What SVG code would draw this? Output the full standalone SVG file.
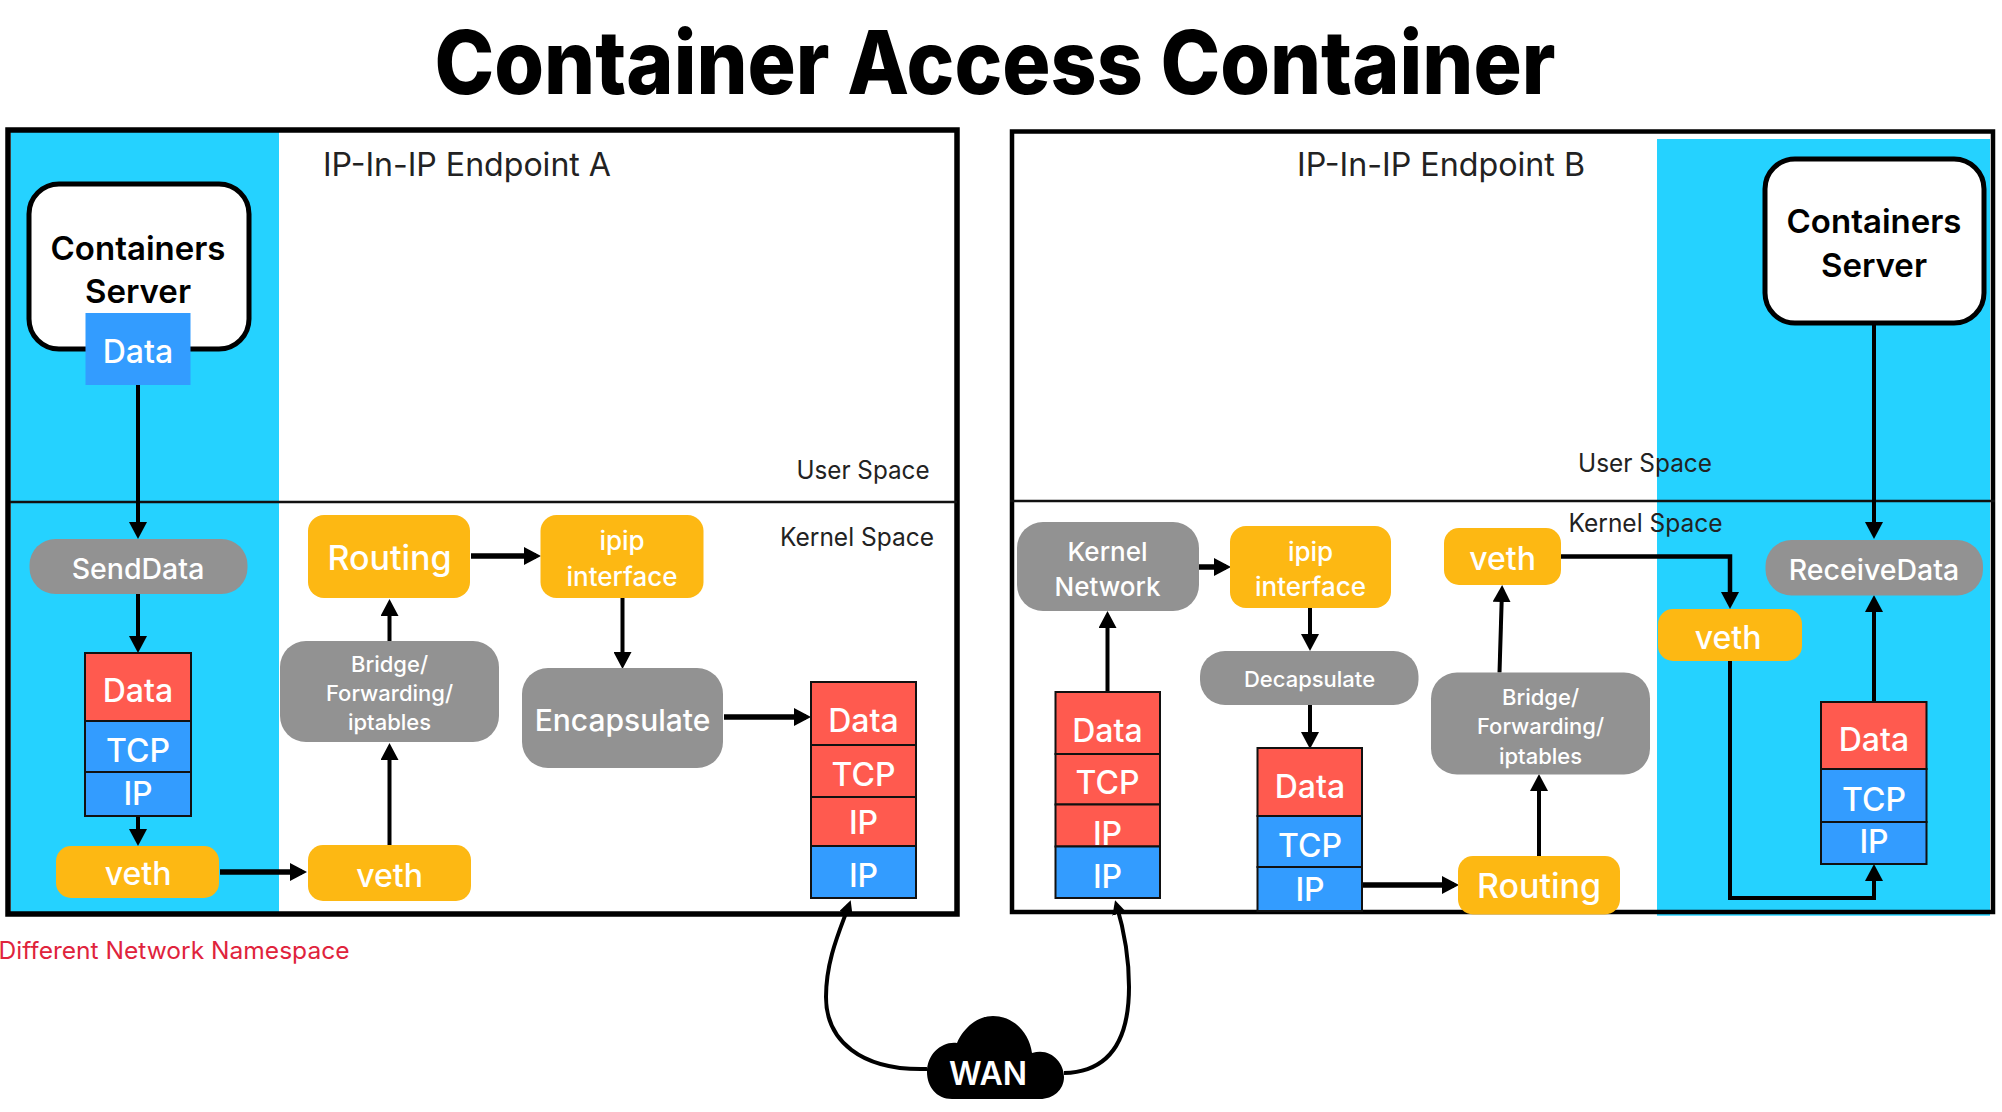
<svg xmlns="http://www.w3.org/2000/svg" width="2002" height="1112" viewBox="0 0 2002 1112">
<style>
text{font-family:"Inter","Liberation Sans",sans-serif;text-anchor:middle}
.w{fill:#fff;font-weight:500}
.l{fill:#222;font-weight:400}
.k{fill:#000;font-weight:600;font-size:33px}
.s30{font-size:32px}.s27{font-size:26px}.s28{font-size:28.500px}.s22{font-size:22px}.s24{font-size:25px}
.org{fill:#fdb813}.gry{fill:#929292}.red{fill:#ff5a4f;stroke:#111;stroke-width:2}.blu{fill:#339cff;stroke:#111;stroke-width:2}
.cy{fill:#25d2ff}
.fr{fill:none;stroke:#000}
.sep{stroke:#111;stroke-width:2.500}
.srv{fill:#fff;stroke:#000;stroke-width:5}
.c{fill:none;stroke:#000;stroke-width:4}
.t{stroke-width:5.500}
.a{marker-end:url(#h)}
.b{marker-end:url(#m)}
</style>
<defs>
<marker id="h" markerUnits="userSpaceOnUse" markerWidth="18" markerHeight="18" refX="12" refY="9" orient="auto"><path d="M0 0L17 9L0 18Z" fill="#000"/></marker>
<marker id="m" markerUnits="userSpaceOnUse" markerWidth="14" markerHeight="14" refX="9" refY="7" orient="auto"><path d="M0 0L14 7L0 14Z" fill="#000"/></marker>
</defs>
<rect width="2002" height="1112" fill="#fff"/>
<text x="995" y="94" font-size="88" font-weight="800" fill="#000" textLength="1121" lengthAdjust="spacingAndGlyphs">Container Access Container</text>

<g id="panel-a">
<rect class="cy" x="11" y="132" width="268" height="780"/>
<rect class="fr" x="8" y="130" width="949" height="784" stroke-width="5.500"/>
<line class="sep" x1="10" y1="502" x2="957" y2="502"/>
<text class="l" x="467" y="176" font-size="32" textLength="288" lengthAdjust="spacingAndGlyphs">IP-In-IP Endpoint A</text>
<text class="l s24" x="863" y="479" textLength="133" lengthAdjust="spacingAndGlyphs">User Space</text>
<text class="l s24" x="857" y="546" textLength="154" lengthAdjust="spacingAndGlyphs">Kernel Space</text>
</g>
<g id="panel-b">
<rect class="cy" x="1657" y="139" width="333" height="776.700"/>
<rect class="fr" x="1012" y="131.500" width="981" height="780.500" stroke-width="4.500"/>
<line class="sep" x1="1010" y1="501" x2="1995" y2="501"/>
<text class="l" x="1441" y="176" font-size="32" textLength="288" lengthAdjust="spacingAndGlyphs">IP-In-IP Endpoint B</text>
<text class="l s24" x="1645" y="472" textLength="134" lengthAdjust="spacingAndGlyphs">User Space</text>
<text class="l s24" x="1645.500" y="532" textLength="154" lengthAdjust="spacingAndGlyphs">Kernel Space</text>
</g>
<text x="174" y="959" font-size="24" fill="#e0233c" font-weight="400" textLength="351" lengthAdjust="spacingAndGlyphs">Different Network Namespace</text>

<g id="connectors">
<path class="c a" d="M138 385V534"/>
<path class="c a" d="M138 594V648"/>
<path class="c a" d="M138 816V841"/>
<path class="c t a" d="M220 872H302"/>
<path class="c a" d="M389.500 845V748"/>
<path class="c a" d="M389.500 641V604"/>
<path class="c t a" d="M471 556H536"/>
<path class="c a" d="M622.500 598V664"/>
<path class="c t a" d="M724 717H806"/>
<path class="c b" d="M927 1069C860 1071 826 1040 826 997C826 960 840 930 849 905"/>
<path class="c b" d="M1064 1073C1110 1072 1129 1040 1129 987C1129 950 1121 920 1116.500 905"/>
<path class="c a" d="M1107.500 692V616"/>
<path class="c t a" d="M1199 567H1226"/>
<path class="c a" d="M1310 608V646"/>
<path class="c a" d="M1310 705V744"/>
<path class="c t a" d="M1362 885H1454"/>
<path class="c a" d="M1539 856V779"/>
<path class="c a" d="M1499.500 672.500L1502 590"/>
<path class="c t a" d="M1561 556.600H1730V604" style="stroke-width:4.500"/>
<path class="c a" d="M1730 661V898H1874V869"/>
<path class="c a" d="M1874 702V600"/>
<path class="c a" d="M1874 323V534"/>
</g>

<g id="server-a"><rect class="srv" x="29" y="184" width="220" height="165" rx="30"/>
<text class="k" x="138" y="260">Containers</text><text class="k" x="138" y="303">Server</text></g>
<g id="data-a"><rect fill="#339cff" x="85.500" y="313" width="105" height="72"/><text class="w s30" x="138" y="363">Data</text></g>
<g id="senddata"><rect class="gry" x="29.500" y="539" width="218" height="55" rx="26"/><text class="w s28" x="138" y="579">SendData</text></g>
<g id="stack-a1">
<rect class="red" x="85" y="653" width="106" height="68"/><rect class="blu" x="85" y="721" width="106" height="51"/><rect class="blu" x="85" y="772" width="106" height="44"/>
<text class="w s30" x="138" y="702">Data</text><text class="w s30" x="138" y="762">TCP</text><text class="w s30" x="138" y="805">IP</text></g>
<g id="veth-a1"><rect class="org" x="56" y="846" width="163" height="52" rx="15"/><text class="w s30" x="138" y="885">veth</text></g>
<g id="veth-a2"><rect class="org" x="308" y="845" width="163" height="56" rx="15"/><text class="w s30" x="389.500" y="887">veth</text></g>
<g id="bridge-a"><rect class="gry" x="280" y="641" width="219" height="101" rx="26"/>
<text class="w s22" x="389.500" y="672">Bridge/</text><text class="w s22" x="389.500" y="701">Forwarding/</text><text class="w s22" x="389.500" y="730">iptables</text></g>
<g id="routing-a"><rect class="org" x="308" y="515" width="162" height="83" rx="16"/><text class="w" font-size="34" x="389.500" y="570">Routing</text></g>
<g id="ipip-a"><rect class="org" x="540.500" y="515" width="163" height="83" rx="16"/><text class="w s27" x="622" y="550">ipip</text><text class="w s27" x="622" y="586">interface</text></g>
<g id="encapsulate"><rect class="gry" x="522" y="668" width="201" height="100" rx="26"/><text class="w" font-size="30" x="622.500" y="731">Encapsulate</text></g>
<g id="stack-a2">
<rect class="red" x="811" y="682" width="105" height="63"/><rect class="red" x="811" y="745" width="105" height="52"/><rect class="red" x="811" y="797" width="105" height="49"/><rect class="blu" x="811" y="846" width="105" height="52"/>
<text class="w s30" x="863.500" y="732">Data</text><text class="w s30" x="863.500" y="786">TCP</text><text class="w s30" x="863.500" y="834">IP</text><text class="w s30" x="863.500" y="887">IP</text></g>

<g id="wan"><path fill="#000" d="M952 1099C936 1099 927 1086 927 1072C927 1054 942 1041 957 1043C964 1027 978 1016 993 1016C1013 1016 1029 1032 1032 1053C1050 1047 1064 1062 1064 1077C1064 1090 1053 1099 1040 1099Z"/>
<text fill="#fff" font-weight="600" font-size="32" x="988" y="1085">WAN</text></g>

<g id="kernel-network"><rect class="gry" x="1017" y="522" width="182" height="89" rx="26"/><text class="w s27" x="1107.500" y="561">Kernel</text><text class="w s27" x="1107.500" y="596">Network</text></g>
<g id="ipip-b"><rect class="org" x="1230" y="526" width="161" height="82" rx="16"/><text class="w s27" x="1310.500" y="561">ipip</text><text class="w s27" x="1310.500" y="596">interface</text></g>
<g id="decapsulate"><rect class="gry" x="1200" y="651" width="218.500" height="54" rx="25"/><text class="w" font-size="22" x="1309.500" y="687">Decapsulate</text></g>
<g id="veth-b1"><rect class="org" x="1444" y="528" width="117" height="57" rx="15"/><text class="w s30" x="1502.500" y="570">veth</text></g>
<g id="bridge-b"><rect class="gry" x="1431" y="672.500" width="219" height="102" rx="26"/>
<text class="w s22" x="1540.500" y="705">Bridge/</text><text class="w s22" x="1540.500" y="734">Forwarding/</text><text class="w s22" x="1540.500" y="763.500">iptables</text></g>
<g id="routing-b"><rect class="org" x="1458" y="856" width="162" height="58.500" rx="15"/><text class="w" font-size="34" x="1539" y="898">Routing</text></g>
<g id="stack-b1">
<rect class="red" x="1055.500" y="692" width="104.500" height="62"/><rect class="red" x="1055.500" y="754" width="104.500" height="50.500"/><rect class="red" x="1055.500" y="804.500" width="104.500" height="42"/>
<text class="w s30" x="1107.500" y="742">Data</text><text class="w s30" x="1107.500" y="794">TCP</text><text class="w s30" x="1107.500" y="845">IP</text>
<rect class="blu" x="1055.500" y="846.500" width="104.500" height="51.500"/><text class="w s30" x="1107.500" y="888">IP</text></g>
<g id="stack-b2">
<rect class="red" x="1257.500" y="748" width="104.500" height="68"/><rect class="blu" x="1257.500" y="816" width="104.500" height="51"/><rect class="blu" x="1257.500" y="867" width="104.500" height="44"/>
<text class="w s30" x="1310" y="798">Data</text><text class="w s30" x="1310" y="857">TCP</text><text class="w s30" x="1310" y="901">IP</text></g>
<g id="server-b"><rect class="srv" x="1765" y="159" width="219" height="164" rx="30"/>
<text class="k" x="1874" y="233">Containers</text><text class="k" x="1874" y="277">Server</text></g>
<g id="receivedata"><rect class="gry" x="1765.500" y="540" width="217.500" height="55.600" rx="26"/><text class="w s28" x="1874" y="580">ReceiveData</text></g>
<g id="veth-b2"><rect class="org" x="1658" y="609" width="144" height="52" rx="15"/><text class="w s30" x="1728" y="649">veth</text></g>
<g id="stack-b3">
<rect class="red" x="1821" y="702" width="105.500" height="67"/><rect class="blu" x="1821" y="769" width="105.500" height="53"/><rect class="blu" x="1821" y="822" width="105.500" height="42"/>
<text class="w s30" x="1874" y="751">Data</text><text class="w s30" x="1874" y="811">TCP</text><text class="w s30" x="1874" y="853">IP</text></g>
</svg>
